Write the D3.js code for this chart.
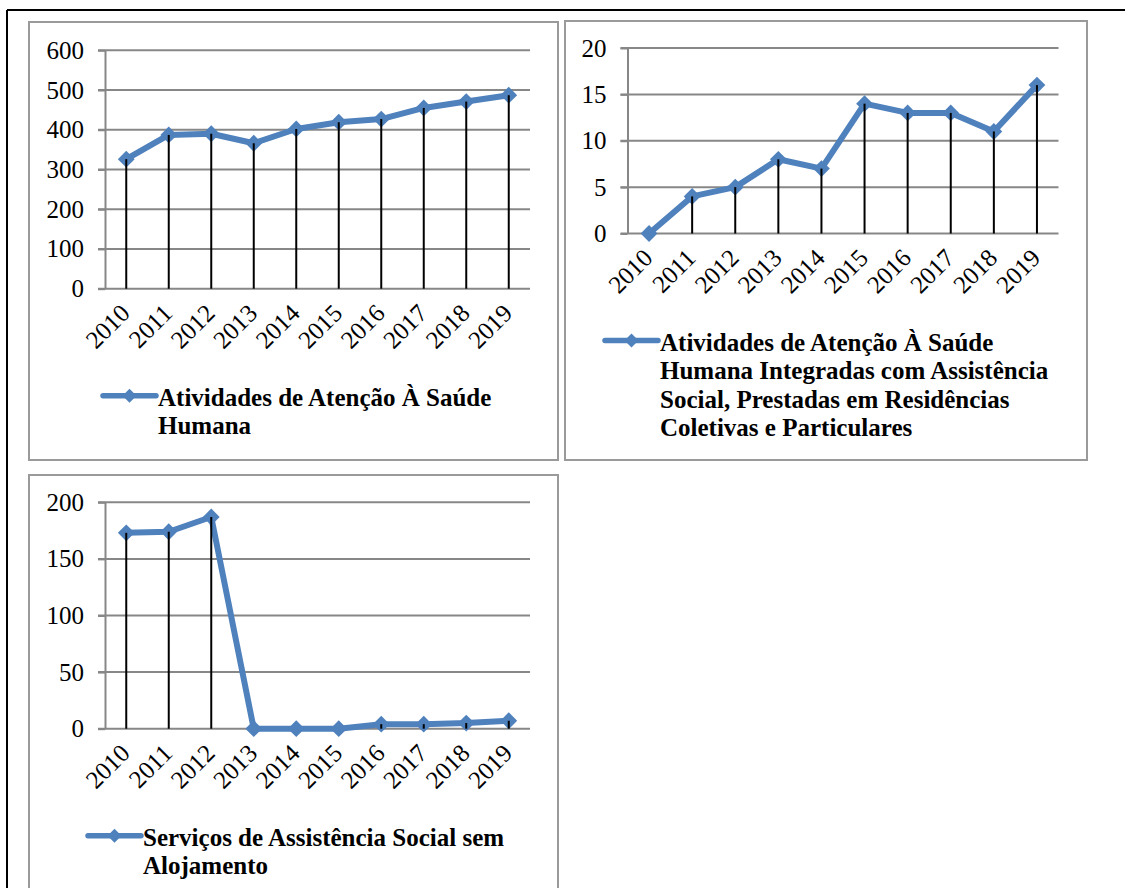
<!DOCTYPE html>
<html>
<head>
<meta charset="utf-8">
<script src="https://cdn.jsdelivr.net/npm/d3@7"></script>
<style>
  html, body { margin: 0; padding: 0; background: #fff; }
  svg { display: block; }
</style>
</head>
<body>
<svg id="chart" width="1125" height="888"></svg>
<script>
// ---- data ----
const years = ["2010","2011","2012","2013","2014","2015","2016","2017","2018","2019"];
const saudeHumana = [326, 387, 390, 366, 402, 419, 427, 455, 471, 487];
const saudeIntegrada = [0, 4, 5, 8, 7, 14, 13, 13, 11, 16];
const assistenciaSocial = [173, 174, 187, 0, 0, 0, 4, 4, 5, 7];
const ticksHumana = [0, 100, 200, 300, 400, 500, 600];
const ticksIntegrada = [0, 5, 10, 15, 20];
const ticksAssistencia = [0, 50, 100, 150, 200];
const legendHumana = ["Atividades de Atenção À Saúde", "Humana"];
const legendIntegrada = ["Atividades de Atenção À Saúde", "Humana Integradas com Assistência", "Social, Prestadas em Residências", "Coletivas e Particulares"];
const legendAssistencia = ["Serviços de Assistência Social sem", "Alojamento"];

// ---- layout ----
const BLUE = "#4F81BD";
const GRID = "#878787";
const FONT = "'Liberation Serif', 'Times New Roman', serif";
const svg = d3.select("#chart");

// outer frame
svg.append("line").attr("x1", 7).attr("x2", 1125).attr("y1", 10).attr("y2", 10)
  .attr("stroke", "#000").attr("stroke-width", 2);
svg.append("line").attr("x1", 7).attr("x2", 7).attr("y1", 10).attr("y2", 888)
  .attr("stroke", "#000").attr("stroke-width", 2);

const panels = [
  { box: [29, 22, 558, 460], plot: { x0: 105, x1: 530, yTop: 50.3, yBot: 288.7 },
    values: saudeHumana, ticks: ticksHumana, legend: legendHumana, legendX: 103 },
  { box: [565, 21, 1087, 460], plot: { x0: 627.5, x1: 1058.5, yTop: 48, yBot: 233.5 },
    values: saudeIntegrada, ticks: ticksIntegrada, legend: legendIntegrada, legendX: 605 },
  { box: [29, 475, 558, 900], plot: { x0: 105, x1: 530, yTop: 502.3, yBot: 728.7 },
    values: assistenciaSocial, ticks: ticksAssistencia, legend: legendAssistencia, legendX: 88 }
];

panels.forEach(p => {
  const [bx0, by0, bx1, by1] = p.box;
  svg.append("rect").attr("x", bx0).attr("y", by0)
    .attr("width", bx1 - bx0).attr("height", by1 - by0)
    .attr("fill", "#fff").attr("stroke", "#9a9a9a").attr("stroke-width", 2);

  const { x0, x1, yTop, yBot } = p.plot;
  const x = d3.scaleBand().domain(years).range([x0, x1]);
  const y = d3.scaleLinear().domain([0, d3.max(p.ticks)]).range([yBot, yTop]);
  const g = svg.append("g");

  // gridlines
  g.append("g").selectAll("line").data(p.ticks).join("line")
    .attr("x1", x0 - 7).attr("x2", x1)
    .attr("y1", d => y(d)).attr("y2", d => y(d))
    .attr("stroke", GRID).attr("stroke-width", 2);

  // y axis
  const ya = g.append("g").attr("transform", `translate(${x0},0)`)
    .call(d3.axisLeft(y).tickValues(p.ticks).tickSize(7).tickPadding(14).tickSizeOuter(0));
  ya.select(".domain").attr("stroke", GRID).attr("stroke-width", 2);
  ya.selectAll(".tick line").attr("stroke", GRID).attr("stroke-width", 2);
  ya.selectAll(".tick text").attr("font-family", FONT).attr("font-size", 25).attr("fill", "#000");

  // x axis labels
  const xa = g.append("g").attr("transform", `translate(0,${yBot})`)
    .call(d3.axisBottom(x).tickSize(0).tickSizeOuter(0));
  xa.select(".domain").remove();
  xa.selectAll(".tick text")
    .attr("font-family", FONT).attr("font-size", 25).attr("fill", "#000")
    .attr("text-anchor", "end").attr("y", 0).attr("dy", 0)
    .attr("transform", "translate(5,26) rotate(-45)");

  // series line
  const line = d3.line().x((d, i) => x(years[i]) + x.bandwidth() / 2).y(d => y(d));
  g.append("path").datum(p.values).attr("d", line)
    .attr("fill", "none").attr("stroke", BLUE).attr("stroke-width", 6)
    .attr("stroke-linejoin", "round");

  // markers
  const diamond = d3.symbol().type(d3.symbolDiamond2).size(180);
  g.append("g").selectAll("path").data(p.values).join("path")
    .attr("d", diamond)
    .attr("transform", (d, i) => `translate(${x(years[i]) + x.bandwidth() / 2},${y(d)})`)
    .attr("fill", BLUE);

  // drop lines
  g.append("g").selectAll("line").data(p.values).join("line")
    .attr("x1", (d, i) => x(years[i]) + x.bandwidth() / 2)
    .attr("x2", (d, i) => x(years[i]) + x.bandwidth() / 2)
    .attr("y1", d => y(d)).attr("y2", y(0))
    .attr("stroke", "#000").attr("stroke-width", 2);

  // legend
  const ly = yBot + 107;
  const lx = p.legendX;
  const lg = svg.append("g");
  lg.append("line").attr("x1", lx).attr("x2", lx + 53).attr("y1", ly).attr("y2", ly)
    .attr("stroke", BLUE).attr("stroke-width", 5.5).attr("stroke-linecap", "round");
  lg.append("path").attr("d", d3.symbol().type(d3.symbolDiamond2).size(125)())
    .attr("transform", `translate(${lx + 26.5},${ly})`).attr("fill", BLUE);
  lg.append("text").attr("x", lx + 55).attr("y", ly + 10)
    .attr("font-family", FONT).attr("font-size", 25).attr("font-weight", "bold").attr("fill", "#000")
    .selectAll("tspan").data(p.legend).join("tspan")
    .attr("x", lx + 55).attr("dy", (d, i) => i === 0 ? 0 : 28.5).text(d => d);
});
</script>
</body>
</html>
